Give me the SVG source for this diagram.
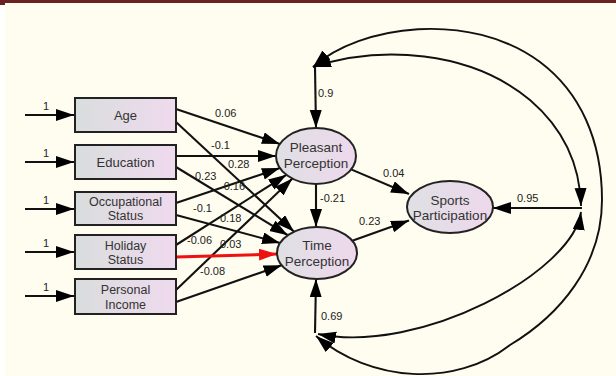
<svg xmlns="http://www.w3.org/2000/svg" width="616" height="376" viewBox="0 0 616 376">
<defs>
<linearGradient id="gb" x1="0" y1="0" x2="1" y2="0">
<stop offset="0" stop-color="#d9dddd"/><stop offset="1" stop-color="#efdaee"/>
</linearGradient>
<linearGradient id="ge" x1="0" y1="0" x2="1" y2="0">
<stop offset="0" stop-color="#dfe0e4"/><stop offset="1" stop-color="#eed8ec"/>
</linearGradient>
<marker id="ah" markerUnits="userSpaceOnUse" markerWidth="20" markerHeight="13" refX="18" refY="6" orient="auto-start-reverse">
<path d="M0,0 L18,6 L0,12 Z" fill="#000"/>
</marker>
<marker id="ahr" markerUnits="userSpaceOnUse" markerWidth="20" markerHeight="13" refX="18" refY="6" orient="auto">
<path d="M0,0 L18,6 L0,12 Z" fill="#ee1111"/>
</marker>
</defs>
<style>
.box{fill:url(#gb);stroke:#222;stroke-width:2}
.ell{fill:url(#ge);stroke:#222;stroke-width:2}
.nt{font-family:"Liberation Sans",Arial,sans-serif;font-size:13px;fill:#333;text-anchor:middle}
.nt2{font-family:"Liberation Sans",Arial,sans-serif;font-size:12.5px;fill:#333;text-anchor:middle}
.et{font-family:"Liberation Sans",Arial,sans-serif;font-size:13.5px;fill:#333;text-anchor:middle}
.lb{font-family:"Liberation Sans",Arial,sans-serif;font-size:11px;fill:#222}
.c{stroke:#111;stroke-width:2.1;fill:none;marker-end:url(#ah)}
.cr{stroke:#ee1111;stroke-width:3;fill:none;marker-end:url(#ahr)}
.arc{stroke:#111;stroke-width:1.9;fill:none;marker-start:url(#ah);marker-end:url(#ah)}
</style>
<rect x="0" y="0" width="616" height="376" fill="#fefdf0"/>
<rect x="0" y="0" width="5" height="376" fill="#ffffff"/>
<rect x="0" y="0" width="616" height="3" fill="#6b2222"/>
<rect x="0" y="0" width="5" height="5" fill="#6b2222"/>

<g id="connectors">
<line class="c" x1="25" y1="115" x2="74" y2="115"/>
<line class="c" x1="25" y1="162" x2="74" y2="162"/>
<line class="c" x1="25" y1="209" x2="74" y2="209"/>
<line class="c" x1="25" y1="252" x2="74" y2="252"/>
<line class="c" x1="25" y1="296" x2="74" y2="296"/>

<line class="c" x1="176" y1="109" x2="279.9" y2="143.9"/>
<line class="c" x1="176" y1="156" x2="276" y2="156"/>
<line class="c" x1="176" y1="203" x2="279.9" y2="168.1"/>
<line class="c" x1="176" y1="245" x2="286.4" y2="174.8"/>
<line class="c" x1="176" y1="290" x2="292.4" y2="178.6"/>

<line class="c" x1="176" y1="122" x2="294.1" y2="231.7"/>
<line class="c" x1="176" y1="167" x2="287.8" y2="235.2"/>
<line class="c" x1="176" y1="215" x2="280.1" y2="243"/>
<line class="cr" x1="176" y1="257" x2="277" y2="254.1"/>
<line class="c" x1="176" y1="302" x2="281.7" y2="265.3"/>

<line class="c" x1="316" y1="184" x2="316" y2="227"/>
<line class="c" x1="351.1" y1="169.4" x2="409" y2="194"/>
<line class="c" x1="352.3" y1="240.8" x2="409" y2="220.5"/>

<line class="c" x1="315" y1="67" x2="316" y2="128"/>
<line class="c" x1="315" y1="333" x2="316" y2="279"/>
<line class="c" x1="582" y1="208" x2="493" y2="208"/>

<path class="arc" d="M313,67 C360,25 470,10 540,62 C580,92 602,140 602,200 C602,265 560,315 510,345 C455,388 370,382 316,336"/>
<path class="arc" d="M313,67 C380,45 470,50 530,100 C565,130 580,165 581,206"/>
<path class="arc" d="M581,212 C573,272 420,355 318,334"/>
</g>

<g id="labels">
<text class="lb" x="43" y="110">1</text>
<text class="lb" x="43" y="157">1</text>
<text class="lb" x="43" y="204">1</text>
<text class="lb" x="43" y="247">1</text>
<text class="lb" x="43" y="291">1</text>
<text class="lb" x="215" y="117">0.06</text>
<text class="lb" x="211" y="149">-0.1</text>
<text class="lb" x="228" y="168">0.28</text>
<text class="lb" x="195" y="180">0.23</text>
<text class="lb" x="220" y="190">-0.16</text>
<text class="lb" x="193" y="212">-0.1</text>
<text class="lb" x="220" y="222">0.18</text>
<text class="lb" x="187" y="244">-0.06</text>
<text class="lb" x="220" y="248">0.03</text>
<text class="lb" x="200" y="275">-0.08</text>
<text class="lb" x="318" y="97">0.9</text>
<text class="lb" x="383" y="177">0.04</text>
<text class="lb" x="320" y="202">-0.21</text>
<text class="lb" x="359" y="225">0.23</text>
<text class="lb" x="517" y="202">0.95</text>
<text class="lb" x="321" y="320">0.69</text>
</g>

<g id="age"><rect class="box" x="75" y="98" width="101" height="34"/><text class="nt" x="125.5" y="120">Age</text></g>
<g id="education"><rect class="box" x="75" y="145" width="101" height="34"/><text class="nt" x="125.5" y="167">Education</text></g>
<g id="occupational"><rect class="box" x="75" y="192" width="101" height="33"/><text class="nt2" x="125.5" y="206">Occupational</text><text class="nt2" x="125.5" y="220">Status</text></g>
<g id="holiday"><rect class="box" x="75" y="235" width="101" height="34"/><text class="nt2" x="125.5" y="249.5">Holiday</text><text class="nt2" x="125.5" y="264">Status</text></g>
<g id="income"><rect class="box" x="75" y="279" width="101" height="35"/><text class="nt2" x="125.5" y="294">Personal</text><text class="nt2" x="125.5" y="308.5">Income</text></g>

<g id="pleasant"><ellipse class="ell" cx="316" cy="156" rx="40" ry="28"/><text class="et" x="316" y="152">Pleasant</text><text class="et" x="316" y="168">Perception</text></g>
<g id="time"><ellipse class="ell" cx="317" cy="253" rx="40" ry="26"/><text class="et" x="317" y="250">Time</text><text class="et" x="317" y="266">Perception</text></g>
<g id="sports"><ellipse class="ell" cx="450" cy="207" rx="43" ry="26"/><text class="et" x="450" y="205">Sports</text><text class="et" x="450" y="220">Participation</text></g>
</svg>
